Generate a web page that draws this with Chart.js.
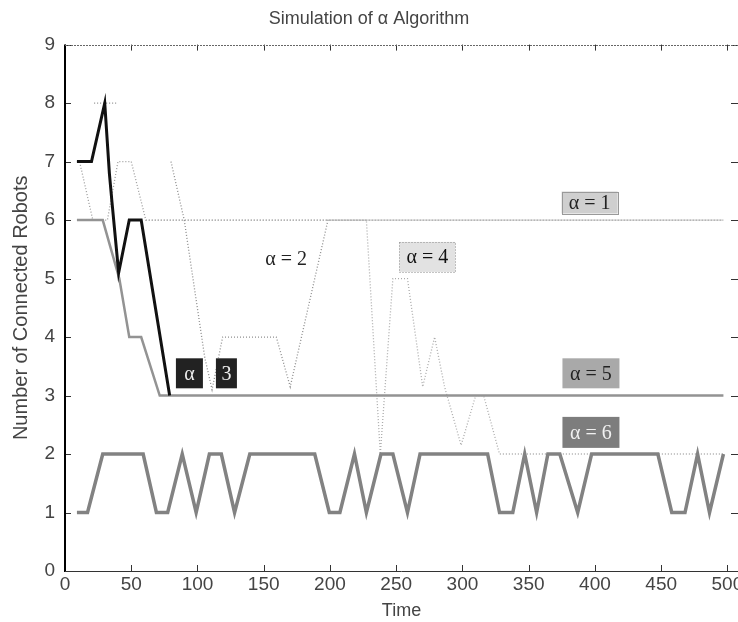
<!DOCTYPE html>
<html>
<head>
<meta charset="utf-8">
<script src="https://cdn.jsdelivr.net/npm/chart.js@4.4.1/dist/chart.umd.min.js"></script>
<style>
  html, body { margin: 0; padding: 0; background: #fff; }
</style>
</head>
<body>
<canvas id="alphaChart" width="738" height="622"></canvas>
<script>
// --- DATA | SIMULATION OF ALPHA ALGORITHM --- //
const xTickValues = [0, 50, 100, 150, 200, 250, 300, 350, 400, 450, 500]
const yTickValues = [0, 1, 2, 3, 4, 5, 6, 7, 8, 9]

const alpha1Time = [9, 11, 21, 32, 40, 50, 61, 497]
const alpha1Robots = [7, 7, 6, 6, 7, 7, 6, 6]

const alpha2Time = [22, 40, 60, 80, 90, 105.5, 111, 119, 159.5, 170, 198.5, 497]
const alpha2Robots = [8, 8, null, 7, 6, 3.65, 3.1, 4, 4, 3.15, 6, 6]

const alpha3Time = [9, 20, 30, 33.5, 35.5, 40.5, 48.5, 57.5, 79]
const alpha3Robots = [7, 7, 8, 6.8, 6.3, 5.1, 6, 6, 3]

const alpha4Time = [61, 227.5, 238, 247.5, 258.5, 270, 279, 286.5, 299, 310, 316, 328, 497]
const alpha4Robots = [6, 6, 2, 5, 5, 3.15, 4, 3.15, 2.15, 3, 3, 2, 2]

const alpha5Time = [9, 28.5, 41, 48.5, 57.5, 71.5, 497]
const alpha5Robots = [6, 6, 5, 4, 4, 3, 3]

const alpha6Time = [9, 17, 28.5, 59, 69, 77.5, 88.5, 99, 109, 118, 128, 139.5, 188.5, 199.5, 207.5, 218.5,
  227.5, 238.5, 247.5, 258.5, 268, 319, 328, 338, 347, 356, 364.5, 373.5, 387, 397.5, 447.5, 458, 468,
  477.5, 486.5, 497]
const alpha6Robots = [1, 1, 2, 2, 1, 1, 2, 1, 2, 2, 1, 2, 2, 1, 1, 2,
  1, 2, 2, 1, 2, 2, 1, 1, 2, 1, 2, 2, 1, 2, 2, 1, 1,
  2, 1, 2]

// label anchors, in data units
const labelTexts = ['α = 1', 'α = 2', 'α = 3', 'α = 4', 'α = 5', 'α = 6']
const labelTimes = [396, 167, 107.5, 273.5, 397, 397]
const labelRobots = [6.3, 5.34, 3.38, 5.37, 3.38, 2.37]

const toPoints = (times, robots) => times.map((t, i) => ({ x: t, y: robots[i] }))

// --- STYLES --- //
const sansFamily = "'Liberation Sans Narrow', 'Liberation Sans', sans-serif"
const tickFont = { family: sansFamily, size: 19 }
const textColor = '#444'

const labelStyles = [
  { fill: '#cfcfcf', color: '#222', border: '#999', w: 56, h: 22 },
  { fill: null, color: '#222', border: null, w: 0, h: 0 },
  { fill: '#222', color: '#eee', border: null, w: 0, h: 30, split: true },
  { fill: '#e2e2e2', color: '#111', border: '#888', w: 56, h: 30, dotted: true },
  { fill: '#a9a9a9', color: '#222', border: null, w: 57, h: 30 },
  { fill: '#7d7d7d', color: '#f0f0f0', border: null, w: 57, h: 31 }
]

// --- PLUGINS --- //
const insideTicks = {
  id: 'insideTicks',
  afterDraw: chart => {
    const { ctx, chartArea: a, scales: { x, y } } = chart
    ctx.save()
    ctx.strokeStyle = '#333'
    ctx.lineWidth = 1
    ctx.beginPath()
    x.ticks.forEach(t => {
      const px = Math.round(x.getPixelForValue(t.value)) + 0.5
      ctx.moveTo(px, a.bottom)
      ctx.lineTo(px, a.bottom - 6)
      ctx.moveTo(px, a.top)
      ctx.lineTo(px, a.top + 6)
    })
    y.ticks.forEach(t => {
      const py = Math.round(y.getPixelForValue(t.value)) + 0.5
      ctx.moveTo(a.left, py)
      ctx.lineTo(a.left + 6, py)
      ctx.moveTo(a.right, py)
      ctx.lineTo(a.right - 7, py)
    })
    ctx.stroke()

    // box
    ctx.beginPath()
    ctx.strokeStyle = '#000'
    ctx.lineWidth = 2
    ctx.moveTo(a.left, a.top)
    ctx.lineTo(a.left, a.bottom + 1)
    ctx.stroke()

    ctx.beginPath()
    ctx.strokeStyle = '#333'
    ctx.lineWidth = 1
    ctx.moveTo(a.left, Math.round(a.bottom) + 0.5)
    ctx.lineTo(a.right, Math.round(a.bottom) + 0.5)
    ctx.stroke()

    ctx.beginPath()
    ctx.strokeStyle = '#666'
    ctx.setLineDash([2, 1])
    ctx.moveTo(a.left, Math.round(a.top) + 0.5)
    ctx.lineTo(a.right, Math.round(a.top) + 0.5)
    ctx.stroke()
    ctx.restore()
  }
}

const alphaLabels = {
  id: 'alphaLabels',
  afterDatasetsDraw: chart => {
    const { ctx, scales: { x, y } } = chart
    ctx.save()
    ctx.font = "20px 'Liberation Serif', serif"
    ctx.textAlign = 'center'
    ctx.textBaseline = 'middle'

    labelTexts.forEach((text, i) => {
      const s = labelStyles[i]
      const cx = x.getPixelForValue(labelTimes[i])
      const cy = y.getPixelForValue(labelRobots[i])

      if (s.split) {
        // alpha = 3 tag is broken in two boxes, the line shows through the gap
        const parts = [['α', -18, 27], ['3', 19, 21]]
        parts.forEach(([str, dx, w]) => {
          ctx.fillStyle = s.fill
          ctx.fillRect(cx + dx - w / 2, cy - s.h / 2, w, s.h)
          ctx.fillStyle = s.color
          ctx.fillText(str, cx + dx, cy + 1)
        })
        return
      }

      if (s.fill) {
        ctx.fillStyle = s.fill
        ctx.fillRect(cx - s.w / 2, cy - s.h / 2, s.w, s.h)
      }
      if (s.border) {
        ctx.strokeStyle = s.border
        ctx.lineWidth = 1
        ctx.setLineDash(s.dotted ? [1, 2] : [])
        ctx.strokeRect(Math.round(cx - s.w / 2) + 0.5, Math.round(cy - s.h / 2) + 0.5, s.w, s.h)
        ctx.setLineDash([])
      }
      ctx.fillStyle = s.color
      ctx.fillText(text, cx, cy + 1)
    })
    ctx.restore()
  }
}

// --- CHART --- //
const lineStyle = (color, width, dash) => ({
  borderColor: color,
  backgroundColor: color,
  borderWidth: width,
  borderDash: dash,
  pointRadius: 0,
  tension: 0,
  fill: false
})

const chartData = {
  datasets: [
    { label: 'α = 6', data: toPoints(alpha6Time, alpha6Robots), ...lineStyle('#828282', 3.5, []) },
    { label: 'α = 3', data: toPoints(alpha3Time, alpha3Robots), ...lineStyle('#111', 3, []) },
    { label: 'α = 5', data: toPoints(alpha5Time, alpha5Robots), ...lineStyle('#939393', 2.5, []) },
    { label: 'α = 2', data: toPoints(alpha2Time, alpha2Robots), ...lineStyle('#8c8c8c', 1.3, [1, 2]) },
    { label: 'α = 1', data: toPoints(alpha1Time, alpha1Robots), ...lineStyle('#9c9c9c', 1.3, [1, 2]) },
    { label: 'α = 4', data: toPoints(alpha4Time, alpha4Robots), ...lineStyle('#ababab', 1.3, [1, 2]) }
  ]
}

const chartOptions = {
  responsive: false,
  animation: false,
  devicePixelRatio: 1,
  layout: { padding: { left: 0, right: 0, top: 0, bottom: 0 } },
  plugins: {
    legend: { display: false },
    tooltip: { enabled: false },
    title: {
      display: true,
      text: 'Simulation of α Algorithm',
      color: textColor,
      font: { family: sansFamily, size: 18, weight: 'normal' },
      padding: { top: 8, bottom: 15 }
    }
  },
  scales: {
    x: {
      type: 'linear',
      min: 0,
      max: 508,
      afterFit: s => {
        s.height = 51
        s.paddingLeft = 0
        s.paddingRight = 0
      },
      afterBuildTicks: s => { s.ticks = xTickValues.map(v => ({ value: v })) },
      grid: { display: false, drawTicks: false },
      border: { display: false },
      ticks: { font: tickFont, color: textColor, padding: 2, maxRotation: 0, autoSkip: false },
      title: {
        display: true,
        text: 'Time',
        color: textColor,
        font: { family: sansFamily, size: 18 },
        padding: { top: 0, bottom: 0 }
      }
    },
    y: {
      min: 0,
      max: 9,
      afterFit: s => {
        s.width = 65
        s.paddingTop = 0
        s.paddingBottom = 0
      },
      afterBuildTicks: s => { s.ticks = yTickValues.map(v => ({ value: v })) },
      grid: { display: false, drawTicks: false },
      border: { display: false },
      ticks: { font: tickFont, color: textColor, padding: 10 },
      title: {
        display: true,
        text: 'Number of Connected Robots',
        color: textColor,
        font: { family: sansFamily, size: 20 },
        padding: { top: 9, bottom: 0 }
      }
    }
  }
}

const alphaChart = new Chart(document.getElementById('alphaChart'), {
  type: 'line',
  data: chartData,
  options: chartOptions,
  plugins: [alphaLabels, insideTicks]
})
</script>
</body>
</html>
